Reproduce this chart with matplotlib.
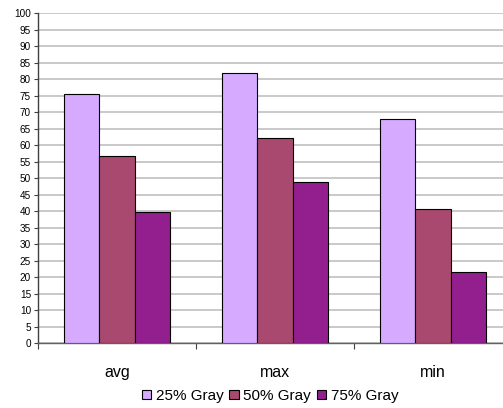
import numpy as np
import matplotlib
matplotlib.use("Agg")
import matplotlib.pyplot as plt

plt.rcParams["font.family"] = ["Liberation Sans", "DejaVu Sans"]

categories = ["avg", "max", "min"]
series_names = ["25% Gray", "50% Gray", "75% Gray"]
gray25 = [75.4, 81.7, 67.8]
gray50 = [56.6, 62.2, 40.5]
gray75 = [39.6, 48.9, 21.7]
colors = ["#D5AAFF", "#A9496F", "#931F8F"]

fig = plt.figure(figsize=(5.03, 4.08), dpi=100)
ax = fig.add_axes([0.0755, 0.159, 0.942, 0.809])

x = np.arange(len(categories))
width = 0.224
for i, (vals, name, col) in enumerate(zip([gray25, gray50, gray75], series_names, colors)):
    ax.bar(x + (i - 1) * width, vals, width, color=col, edgecolor="black",
           linewidth=0.8, label=name, zorder=3)

ax.set_xlim(-0.5, len(categories) - 0.5)
ax.set_ylim(0, 100)
ax.set_yticks(np.arange(0, 101, 5))
ax.yaxis.grid(True, color="#C0C0C0", linewidth=1.2, zorder=0)
ax.set_axisbelow(True)

# boundary ticks between categories, labels centred under groups
ax.set_xticks(np.arange(-0.5, len(categories), 1.0))
ax.set_xticklabels([])
ax.set_xticks(x, minor=True)
ax.set_xticklabels(categories, minor=True, fontsize=11.5)
ax.tick_params(axis="x", which="minor", length=0, pad=16)
ax.tick_params(axis="x", which="major", length=4, color="#404040")
ax.tick_params(axis="y", labelsize=7.2, length=3, pad=2, color="#404040")

for side in ["top", "right"]:
    ax.spines[side].set_visible(False)
ax.spines["left"].set_color("#404040")
ax.spines["bottom"].set_color("#606060")
ax.spines["left"].set_linewidth(1.0)
ax.spines["bottom"].set_linewidth(1.0)

fig.legend(loc="center", bbox_to_anchor=(0.537, 0.03), ncol=3, frameon=False,
           fontsize=11, handlelength=0.6, handleheight=0.6, handletextpad=0.3,
           columnspacing=0.4, borderpad=0)

fig.savefig("out.png", dpi=100)
